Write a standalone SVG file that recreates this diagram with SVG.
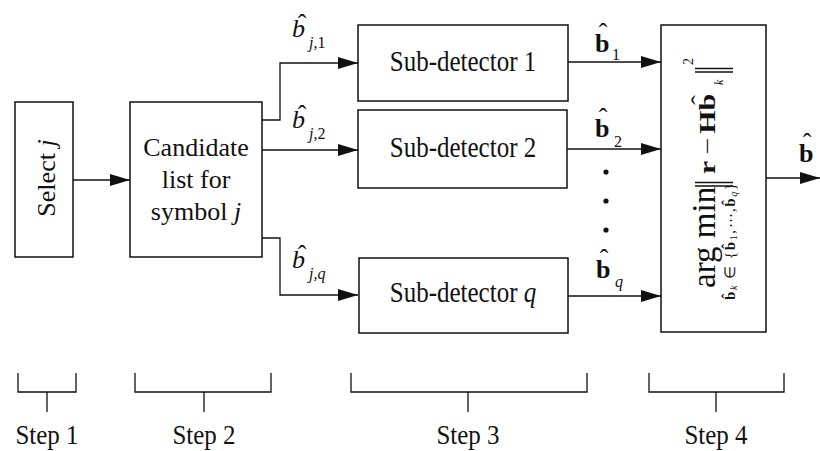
<svg xmlns="http://www.w3.org/2000/svg" width="820" height="451" viewBox="0 0 820 451">
  <defs>
    <marker id="arrow" markerUnits="userSpaceOnUse" markerWidth="20" markerHeight="12" refX="20" refY="6" orient="auto">
      <path d="M0,0 L20,6 L0,12 z" fill="#111"/>
    </marker>
    <style>
      .box { fill: #fff; stroke: #111; stroke-width: 1.5; }
      .wire { fill: none; stroke: #111; stroke-width: 1.3; marker-end: url(#arrow); }
      .brace { fill: none; stroke: #111; stroke-width: 1.3; }
      .bar { fill: none; stroke: #111; stroke-width: 1.4; }
      text { font-family: "Liberation Serif", "Times New Roman", serif; fill: #111; }
      .lbl { font-size: 25px; }
      .mid { text-anchor: middle; }
      .it { font-style: italic; }
      .bf { font-weight: bold; }
    </style>
  </defs>

  <rect width="820" height="451" fill="#fff"/>

  <!-- connectors -->
  <g id="connectors">
    <path class="wire" d="M73,180 H130"/>
    <path class="wire" d="M262,120 H280 V63 H358"/>
    <path class="wire" d="M262,150 H358"/>
    <path class="wire" d="M262,238 H280 V295 H358"/>
    <path class="wire" d="M568,62 H661"/>
    <path class="wire" d="M567,149 H661"/>
    <path class="wire" d="M568,296 H661"/>
    <path class="wire" d="M766,178 H820"/>
  </g>

  <!-- step 1: select j -->
  <g id="select">
    <rect class="box" x="15" y="102" width="58" height="155"/>
    <text class="mid" transform="translate(55,178) rotate(-90)" font-size="26">Select <tspan class="it">j</tspan></text>
  </g>

  <!-- step 2: candidate list -->
  <g id="candidate">
    <rect class="box" x="130" y="102" width="132" height="155"/>
    <text class="mid" x="196" y="156" font-size="26">Candidate</text>
    <text class="mid" x="196" y="188" font-size="26">list for</text>
    <text class="mid" x="196" y="220" font-size="26">symbol <tspan class="it">j</tspan></text>
  </g>

  <!-- candidate labels on the branches -->
  <g id="cand-labels" font-size="26">
    <text class="it" x="292" y="37">b</text>
    <text x="302" y="32" text-anchor="middle">ˆ</text>
    <text x="309" y="48" font-size="16"><tspan class="it">j</tspan>,1</text>

    <text class="it" x="292" y="128">b</text>
    <text x="302" y="123" text-anchor="middle">ˆ</text>
    <text x="309" y="139" font-size="16"><tspan class="it">j</tspan>,2</text>

    <text class="it" x="292" y="268">b</text>
    <text x="302" y="263" text-anchor="middle">ˆ</text>
    <text class="it" x="309" y="279" font-size="16">j,q</text>
  </g>

  <!-- step 3: sub-detectors -->
  <g id="sub1">
    <rect class="box" x="358" y="25" width="210" height="76"/>
    <text class="lbl mid" transform="translate(463,71) scale(1,1.18)">Sub-detector 1</text>
  </g>
  <g id="sub2">
    <rect class="box" x="358" y="110" width="209" height="78"/>
    <text class="lbl mid" transform="translate(463,157) scale(1,1.18)">Sub-detector 2</text>
  </g>
  <g id="subq">
    <rect class="box" x="359" y="258" width="209" height="75"/>
    <text class="lbl mid" transform="translate(463,302) scale(1,1.18)">Sub-detector <tspan class="it">q</tspan></text>
  </g>

  <!-- sub-detector outputs -->
  <g id="sub-outputs" font-size="26">
    <text class="bf" x="595" y="52">b</text>
    <text x="603" y="41" text-anchor="middle">ˆ</text>
    <text x="612" y="60" font-size="16">1</text>

    <text class="bf" x="595" y="137">b</text>
    <text x="603" y="126" text-anchor="middle">ˆ</text>
    <text x="614" y="147" font-size="16">2</text>

    <text class="bf" x="596" y="278">b</text>
    <text x="604" y="267" text-anchor="middle">ˆ</text>
    <text class="it" x="615" y="287" font-size="16">q</text>

    <circle cx="606" cy="172" r="2.6" fill="#111"/>
    <circle cx="606" cy="201" r="2.6" fill="#111"/>
    <circle cx="606" cy="230" r="2.6" fill="#111"/>
  </g>

  <!-- step 4: minimum-distance selection -->
  <g id="select-min">
    <rect class="box" x="661" y="25" width="105" height="307"/>
    <g transform="translate(715,288) rotate(-90)">
      <text x="0" y="0" font-size="33">arg min</text>
      <path class="bar" d="M102,-20 V18 M105.5,-20 V18"/>
      <g transform="translate(114,0) scale(1.3,1)" font-size="23">
        <text class="bf" x="0" y="0">r</text>
        <text x="15" y="0">−</text>
        <text class="bf" x="31" y="0">Hb</text>
        <text x="57" y="-7" text-anchor="middle">ˆ</text>
      </g>
      <text class="it" x="203" y="8" font-size="12">k</text>
      <path class="bar" d="M216,-20 V18 M219.5,-20 V18"/>
      <text x="223" y="-22" font-size="14">2</text>
      <text x="-12" y="20" font-size="15" textLength="117" lengthAdjust="spacing"><tspan class="bf">b̂</tspan><tspan class="it" font-size="10" dy="2">k</tspan><tspan dy="-2"> ∈ {</tspan><tspan class="bf">b̂</tspan><tspan font-size="10" dy="2">1</tspan><tspan dy="-2">,⋯,</tspan><tspan class="bf">b̂</tspan><tspan class="it" font-size="10" dy="2">q</tspan><tspan dy="-2">}</tspan></text>
    </g>
  </g>

  <!-- final estimate -->
  <g id="output" font-size="26">
    <text class="bf" x="799" y="162">b</text>
    <text x="807" y="151" text-anchor="middle">ˆ</text>
  </g>

  <!-- step brackets -->
  <g id="steps">
    <path class="brace" d="M18,373 V392 H76 V373 M47,392 V412"/>
    <path class="brace" d="M135,373 V392 H271 V373 M204,392 V412"/>
    <path class="brace" d="M351,373 V392 H587 V373 M468,392 V412"/>
    <path class="brace" d="M649,373 V392 H784 V373 M716,392 V412"/>
    <text class="lbl mid" transform="translate(47,444) scale(1,1.12)">Step 1</text>
    <text class="lbl mid" transform="translate(204,444) scale(1,1.12)">Step 2</text>
    <text class="lbl mid" transform="translate(468,444) scale(1,1.12)">Step 3</text>
    <text class="lbl mid" transform="translate(716,444) scale(1,1.12)">Step 4</text>
  </g>
</svg>
